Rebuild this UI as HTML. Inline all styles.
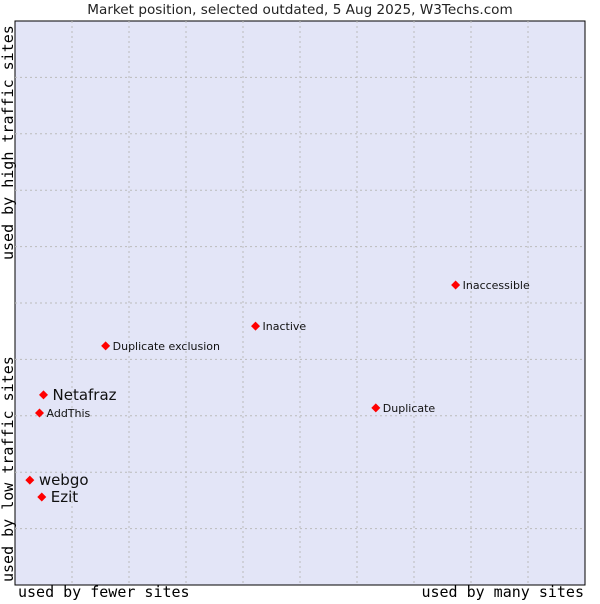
<!DOCTYPE html>
<html><head><meta charset="utf-8"><style>
body{margin:0;background:#fff;width:600px;height:600px;overflow:hidden;font-family:"DejaVu Sans","Liberation Sans",sans-serif}
</style></head><body>
<svg width="600" height="600">
<text x="300" y="14" text-anchor="middle" font-size="13.6" fill="#222">Market position, selected outdated, 5 Aug 2025, W3Techs.com</text>
<rect x="15" y="21" width="570" height="564" fill="#e3e5f7" stroke="#000" stroke-width="1"/>
<g id="grid"></g>
<g id="pts"></g>
<text x="18" y="597" font-family="DejaVu Sans Mono,Liberation Mono,monospace" font-size="15">used by fewer sites</text>
<text x="584" y="597" text-anchor="end" font-family="DejaVu Sans Mono,Liberation Mono,monospace" font-size="15">used by many sites</text>
<text transform="translate(13,582) rotate(-90)" font-family="DejaVu Sans Mono,Liberation Mono,monospace" font-size="15">used by low traffic sites</text>
<text transform="translate(13,260) rotate(-90)" font-family="DejaVu Sans Mono,Liberation Mono,monospace" font-size="15">used by high traffic sites</text>
</svg>
<script>
const names=["Inaccessible","Inactive","Duplicate exclusion","Netafraz","AddThis","Duplicate","webgo","Ezit"];
const xs=[77.3,42.2,15.9,5.0,4.3,63.3,2.6,4.7];
const ys=[53.2,45.9,42.4,33.7,30.5,31.4,18.6,15.6];
const big=[false,false,false,true,false,false,true,true];
const X=v=>15+v/100*570, Y=v=>585-v/100*564;
const NS="http://www.w3.org/2000/svg";
const g=document.getElementById('grid');
for(let i=1;i<10;i++){
 let l=document.createElementNS(NS,'line');
 
 
 l.setAttribute('x1',X(i*10));l.setAttribute('x2',X(i*10));l.setAttribute('y1',21);l.setAttribute('y2',585);
 l.setAttribute('stroke','#bbb');l.setAttribute('stroke-dasharray','2,3');g.appendChild(l);
 let h=document.createElementNS(NS,'line');
 
 
 h.setAttribute('y1',Y(i*10));h.setAttribute('y2',Y(i*10));h.setAttribute('x1',15);h.setAttribute('x2',585);
 h.setAttribute('stroke','#bbb');h.setAttribute('stroke-dasharray','2,3');g.appendChild(h);
}
const p=document.getElementById('pts');
names.forEach((n,i)=>{
 const cx=X(xs[i]),cy=Y(ys[i]);
 let d=document.createElementNS(NS,'path');
 
 
 d.setAttribute('d',`M${cx},${cy-4.5}L${cx+4.5},${cy}L${cx},${cy+4.5}L${cx-4.5},${cy}Z`);
 d.setAttribute('fill','#f00');p.appendChild(d);
 let t=document.createElementNS(NS,'text');
 
 
 t.setAttribute('x',cx+(big[i]?9:7));t.setAttribute('y',cy+(big[i]?5:4));
 t.setAttribute('font-size',big[i]?15:11);t.setAttribute('fill','#111');
 t.textContent=n;p.appendChild(t);
});
</script>
</body></html>
